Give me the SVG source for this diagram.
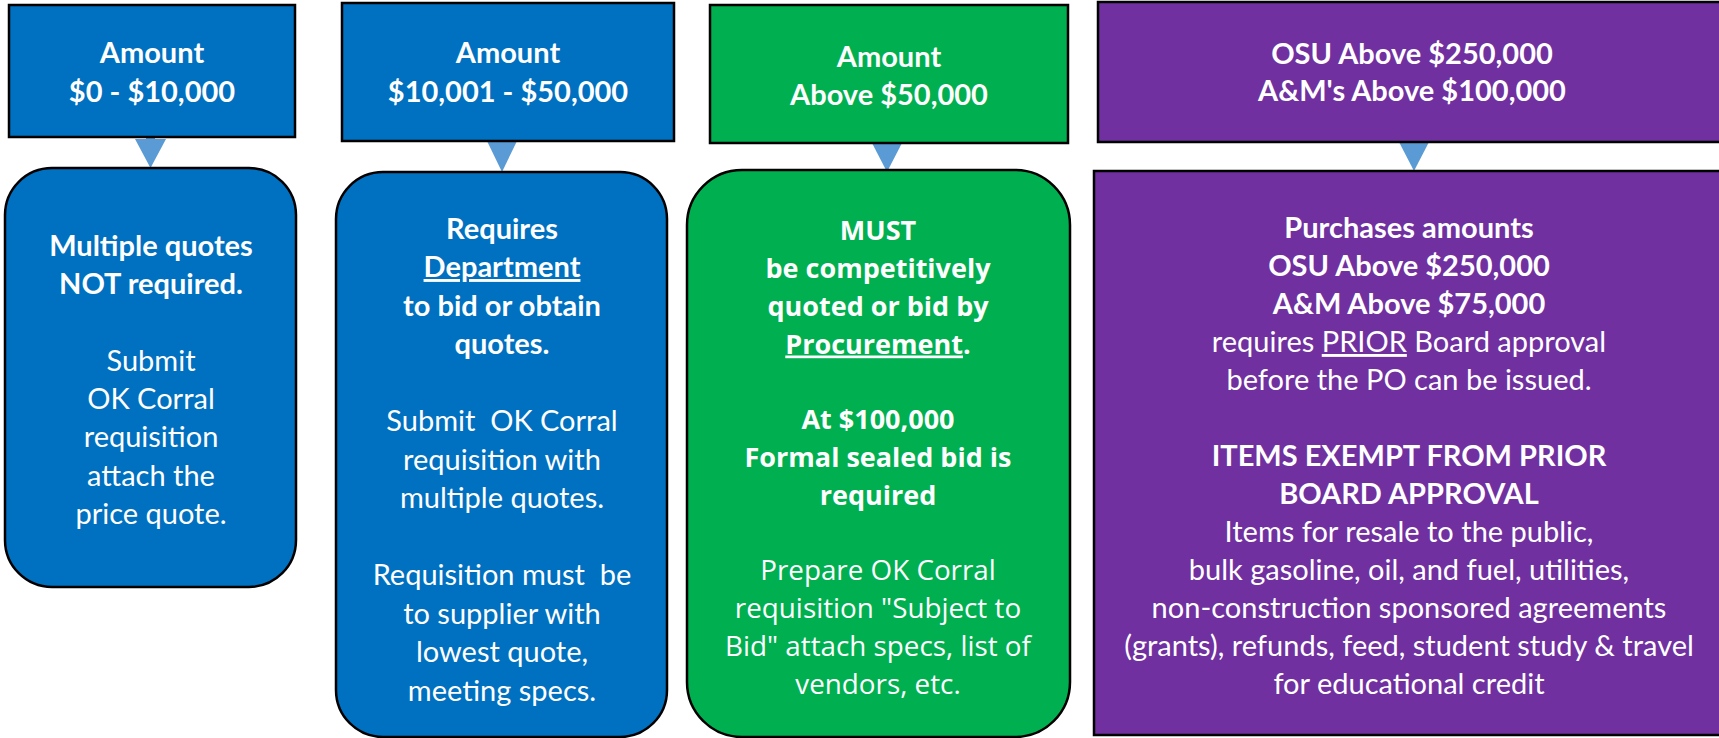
<svg xmlns="http://www.w3.org/2000/svg" width="1719" height="738" viewBox="0 0 1719 738">
  <style>
    .box { stroke: #000; stroke-width: 2.5; }
    .blue { fill: #0070C0; }
    .green { fill: #00B050; }
    .purple { fill: #7030A0; }
    .arrow { fill: #5B9BD5; }
    text { fill: #fff; text-anchor: middle; }
    .cal { font-family: Lato, "Liberation Sans", sans-serif; font-size: 29px; }
    .seg { font-family: "Open Sans", "Liberation Sans", sans-serif; font-size: 27px; }
    .seg.r { font-size: 27.8px; }
    .b { font-weight: bold; }
    .u { text-decoration: underline; }
  </style>
  <rect width="1719" height="738" fill="#fff"/>

  <!-- connectors: short down arrows from each amount header to its detail box -->
  <g id="connectors">
    <path class="arrow" d="M146,132 H155 V139 H166 L150.5,168 L135,139 H146 Z"/>
    <path class="arrow" d="M487,141 H517 L502,172 Z"/>
    <path class="arrow" d="M872,143 H902 L887,172 Z"/>
    <path class="arrow" d="M1399,142 H1429 L1414,171 Z"/>
  </g>

  <!-- tier 1: $0 - $10,000 -->
  <g id="amount-1">
    <rect class="box blue" x="9" y="5" width="286" height="132"/>
    <text class="cal b" x="152" y="63">Amount</text>
    <text class="cal b" x="152" y="102">$0 - $10,000</text>
  </g>
  <g id="detail-1">
    <rect class="box blue" x="5" y="168" width="291" height="419" rx="47" ry="47"/>
    <text class="cal b" x="151" y="256">Multiple quotes</text>
    <text class="cal b" x="151" y="294">NOT required.</text>
    <text class="cal" x="151" y="371">Submit</text>
    <text class="cal" x="151" y="409">OK Corral</text>
    <text class="cal" x="151" y="447">requisition</text>
    <text class="cal" x="151" y="486">attach the</text>
    <text class="cal" x="151" y="524">price quote.</text>
  </g>

  <!-- tier 2: $10,001 - $50,000 -->
  <g id="amount-2">
    <rect class="box blue" x="342" y="3" width="332" height="138"/>
    <text class="cal b" x="508" y="63">Amount</text>
    <text class="cal b" x="508" y="102">$10,001 - $50,000</text>
  </g>
  <g id="detail-2">
    <rect class="box blue" x="336" y="172" width="331" height="565" rx="47" ry="47"/>
    <text class="cal b" x="502" y="238.5">Requires</text>
    <text class="cal b u" x="502" y="277">Department</text>
    <text class="cal b" x="502" y="315.5">to bid or obtain</text>
    <text class="cal b" x="502" y="354">quotes.</text>
    <text class="cal" x="502" y="431">Submit&#160; OK Corral</text>
    <text class="cal" x="502" y="469.5">requisition with</text>
    <text class="cal" x="502" y="508">multiple quotes.</text>
    <text class="cal" x="502" y="585">Requisition must&#160; be</text>
    <text class="cal" x="502" y="623.5">to supplier with</text>
    <text class="cal" x="502" y="662">lowest quote,</text>
    <text class="cal" x="502" y="700.5">meeting specs.</text>
  </g>

  <!-- tier 3: above $50,000 -->
  <g id="amount-3">
    <rect class="box green" x="710" y="5" width="358" height="138"/>
    <text class="cal b" x="889" y="67">Amount</text>
    <text class="cal b" x="889" y="105">Above $50,000</text>
  </g>
  <g id="detail-3">
    <rect class="box green" x="687" y="170" width="383" height="567" rx="55" ry="55"/>
    <text class="seg b" x="878" y="240">MUST</text>
    <text class="seg b" x="878" y="278">be competitively</text>
    <text class="seg b" x="878" y="315.5">quoted or bid by</text>
    <text class="seg b" x="878" y="353.5"><tspan class="u">Procurement</tspan>.</text>
    <text class="seg b" x="878" y="429">At $100,000</text>
    <text class="seg b" x="878" y="467">Formal sealed bid is</text>
    <text class="seg b" x="878" y="505">required</text>
    <text class="seg r" x="878" y="580">Prepare OK Corral</text>
    <text class="seg r" x="878" y="618">requisition "Subject to</text>
    <text class="seg r" x="878" y="656">Bid" attach specs, list of</text>
    <text class="seg r" x="878" y="694">vendors, etc.</text>
  </g>

  <!-- tier 4: board approval thresholds -->
  <g id="amount-4">
    <rect class="box purple" x="1098" y="2" width="640" height="140"/>
    <text class="cal b" x="1412" y="64">OSU Above $250,000</text>
    <text class="cal b" x="1412" y="101">A&amp;M's Above $100,000</text>
  </g>
  <g id="detail-4">
    <rect class="box purple" x="1094" y="171" width="640" height="564"/>
    <text class="cal b" x="1409" y="238">Purchases amounts</text>
    <text class="cal b" x="1409" y="276">OSU Above $250,000</text>
    <text class="cal b" x="1409" y="314">A&amp;M Above $75,000</text>
    <text class="cal" x="1409" y="352">requires <tspan class="u">PRIOR</tspan> Board approval</text>
    <text class="cal" x="1409" y="390">before the PO can be issued.</text>
    <text class="cal b" x="1409" y="466">ITEMS EXEMPT FROM PRIOR</text>
    <text class="cal b" x="1409" y="504">BOARD APPROVAL</text>
    <text class="cal" x="1409" y="542">Items for resale to the public,</text>
    <text class="cal" x="1409" y="580">bulk gasoline, oil, and fuel, utilities,</text>
    <text class="cal" x="1409" y="618">non-construction sponsored agreements</text>
    <text class="cal" x="1409" y="656">(grants), refunds, feed, student study &amp; travel</text>
    <text class="cal" x="1409" y="694">for educational credit</text>
  </g>
</svg>
